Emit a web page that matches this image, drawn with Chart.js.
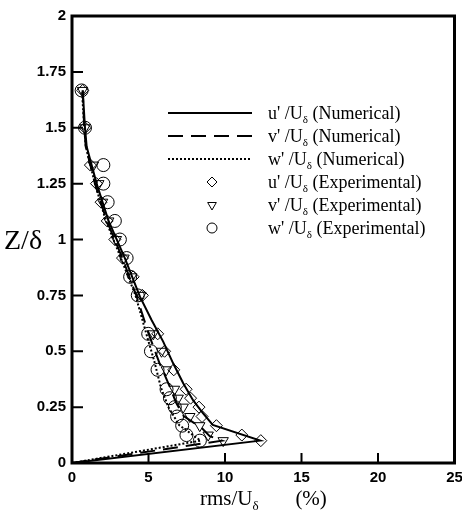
<!DOCTYPE html>
<html>
<head>
<meta charset="utf-8">
<script src="https://cdn.jsdelivr.net/npm/chart.js@4.4.1/dist/chart.umd.min.js"></script>
<style>
  html, body { margin: 0; padding: 0; background: #fff; }
  #wrap { width: 462px; height: 512px; }
</style>
</head>
<body>
<div id="wrap"><canvas id="chart" width="462" height="512"></canvas></div>
<script>
// tick labels
const xTicks = [0, 5, 10, 15, 20, 25];
const yTicks = [0, 0.25, 0.5, 0.75, 1, 1.25, 1.5, 1.75, 2];

// numerical profiles (Z/delta vs rms %)
const uNumZ = [0, 0.1, 0.17, 0.222, 0.28, 0.357, 0.446, 0.543, 0.64, 0.744, 0.916, 1.087, 1.25, 1.415, 1.5, 1.667];
const uNum  = [0, 12.3, 9.2, 8.57, 7.92, 7.27, 6.61, 5.96, 5.2, 4.44, 3.46, 2.37, 1.61, 0.96, 0.85, 0.7];
const vNumZ = [0, 0.1, 0.12, 0.155, 0.21, 0.27, 0.34, 0.45, 0.58, 0.75, 0.916, 1.087, 1.25, 1.415, 1.5, 1.667];
const vNum  = [0, 9.8, 9.0, 8.5, 7.3, 6.8, 6.4, 5.7, 5.0, 4.2, 3.3, 2.25, 1.5, 0.9, 0.8, 0.7];
const wNumZ = [0, 0.1, 0.17, 0.25, 0.34, 0.45, 0.58, 0.75, 0.916, 1.087, 1.25, 1.415, 1.5, 1.667];
const wNum  = [0, 8.4, 7.0, 6.3, 5.8, 5.4, 4.85, 4.15, 3.2, 2.2, 1.5, 0.9, 0.8, 0.65];

// experimental points
const expZ = [0.1, 0.125, 0.167, 0.208, 0.25, 0.29, 0.33, 0.417, 0.5, 0.578, 0.75, 0.833, 0.917, 1.0, 1.083, 1.167, 1.25, 1.333, 1.5, 1.667];
const uExp = [12.34, 11.1, 9.44, 8.5, 8.3, 7.75, 7.46, 6.65, 6.05, 5.6, 4.6, 4.0, 3.3, 2.8, 2.3, 1.9, 1.6, 1.2, 0.85, 0.7];
const vExp = [9.88, 8.9, 8.35, 7.7, 7.27, 6.94, 6.7, 6.16, 5.85, 5.31, 4.5, 3.9, 3.4, 2.9, 2.4, 2.0, 1.75, 1.4, 0.85, 0.68];
const wExp = [8.36, 7.48, 7.2, 6.87, 6.72, 6.4, 6.18, 5.59, 5.16, 4.98, 4.3, 3.8, 3.57, 3.13, 2.8, 2.33, 2.05, 2.05, 0.85, 0.63];

const toPts = (xs, zs) => xs.map((v, i) => ({ x: v, y: zs[i] }));

const serif = "'Liberation Serif', 'Times New Roman', serif";
const sans = "'Liberation Sans', Arial, sans-serif";

const lineDs = (label, xs, zs, dash) => ({
    label, data: toPts(xs, zs), showLine: true, pointRadius: 0,
    borderColor: '#000', borderWidth: 2, borderDash: dash, fill: false
});
const markDs = (label, xs, style, r, rot) => ({
    label, data: toPts(xs, expZ), showLine: false,
    pointStyle: style, pointRadius: r, pointRotation: rot || 0,
    pointBorderColor: '#000', pointBackgroundColor: 'rgba(0,0,0,0)', pointBorderWidth: 1
});

const datasets = [
    lineDs("u' /U", uNum, uNumZ, []),
    lineDs("v' /U", vNum, vNumZ, [15, 8]),
    lineDs("w' /U", wNum, wNumZ, [2, 2]),
    markDs("u' /U", uExp, 'rectRot', 6),
    markDs("v' /U", vExp, 'triangle', 6, 180),
    markDs("w' /U", wExp, 'circle', 6.5)
];
const legendTail = ['(Numerical)', '(Numerical)', '(Numerical)', '(Experimental)', '(Experimental)', '(Experimental)'];

// draws text with a small lowered delta after the main part
function subText(ctx, x, y, main, sub, tail, size) {
    ctx.font = size + 'px ' + serif;
    ctx.fillText(main, x, y);
    x += ctx.measureText(main).width;
    ctx.font = Math.round(size * 0.62) + 'px ' + serif;
    ctx.fillText(sub, x, y + size * 0.22);
    x += ctx.measureText(sub).width;
    ctx.font = size + 'px ' + serif;
    ctx.fillText(tail, x, y);
}

const decor = {
    id: 'decor',
    afterDraw(chart) {
        const ctx = chart.ctx, a = chart.chartArea;
        const xs = chart.scales.x, ys = chart.scales.y;
        ctx.save();
        ctx.strokeStyle = '#000';
        ctx.lineWidth = 3;
        ctx.strokeRect(a.left, a.top, a.right - a.left, a.bottom - a.top);
        ctx.lineWidth = 2;
        ctx.beginPath();
        xTicks.forEach(v => {
            const px = xs.getPixelForValue(v);
            ctx.moveTo(px, a.bottom); ctx.lineTo(px, a.bottom - 10);
        });
        yTicks.forEach(v => {
            const py = ys.getPixelForValue(v);
            ctx.moveTo(a.left, py); ctx.lineTo(a.left + 11, py);
        });
        ctx.stroke();

        // axis titles
        ctx.fillStyle = '#000';
        ctx.textBaseline = 'alphabetic';
        ctx.textAlign = 'left';
        ctx.font = '28px ' + serif;
        ctx.fillText('Z/δ', 4, ys.getPixelForValue(1) + 9);
        subText(ctx, 200, 505, 'rms/U', 'δ', '       (%)', 21);

        // legend
        const rowY = [113, 136, 159, 182, 205, 228];
        datasets.forEach((ds, i) => {
            const y = rowY[i];
            if (ds.showLine) {
                ctx.setLineDash(ds.borderDash);
                ctx.lineWidth = 2;
                ctx.beginPath();
                ctx.moveTo(168, y); ctx.lineTo(252, y);
                ctx.stroke();
                ctx.setLineDash([]);
            } else {
                ctx.lineWidth = 1;
                ctx.fillStyle = 'rgba(0,0,0,0)';
                Chart.helpers.drawPoint(ctx, {
                    pointStyle: ds.pointStyle, radius: 5, rotation: ds.pointRotation, borderWidth: 1
                }, 212, y);
                ctx.fillStyle = '#000';
            }
            subText(ctx, 268, y + 6, ds.label, 'δ', ' ' + legendTail[i], 18);
        });
        ctx.restore();
    }
};

new Chart(document.getElementById('chart'), {
    type: 'scatter',
    data: { datasets },
    options: {
        responsive: false,
        animation: false,
        events: [],
        layout: { padding: { top: 16, right: 0, left: 0, bottom: 0 } },
        plugins: { legend: { display: false }, tooltip: { enabled: false } },
        scales: {
            x: {
                type: 'linear', min: 0, max: 25,
                afterBuildTicks: s => { s.ticks = xTicks.map(v => ({ value: v })); },
                afterFit: s => { s.height = 49; s.paddingRight = 7; s.paddingLeft = 0; },
                grid: { display: false, drawTicks: false },
                border: { display: false },
                ticks: { color: '#000', padding: 6, maxRotation: 0, font: { family: sans, size: 15, weight: 'bold' } }
            },
            y: {
                type: 'linear', min: 0, max: 2,
                afterBuildTicks: s => { s.ticks = yTicks.map(v => ({ value: v })); },
                afterFit: s => { s.width = 72; s.paddingTop = 0; s.paddingBottom = 0; },
                grid: { display: false, drawTicks: false },
                border: { display: false },
                ticks: {
                    color: '#000', padding: 6, font: { family: sans, size: 15, weight: 'bold' },
                    callback: v => String(v)
                }
            }
        }
    },
    plugins: [decor]
});
</script>
</body>
</html>
